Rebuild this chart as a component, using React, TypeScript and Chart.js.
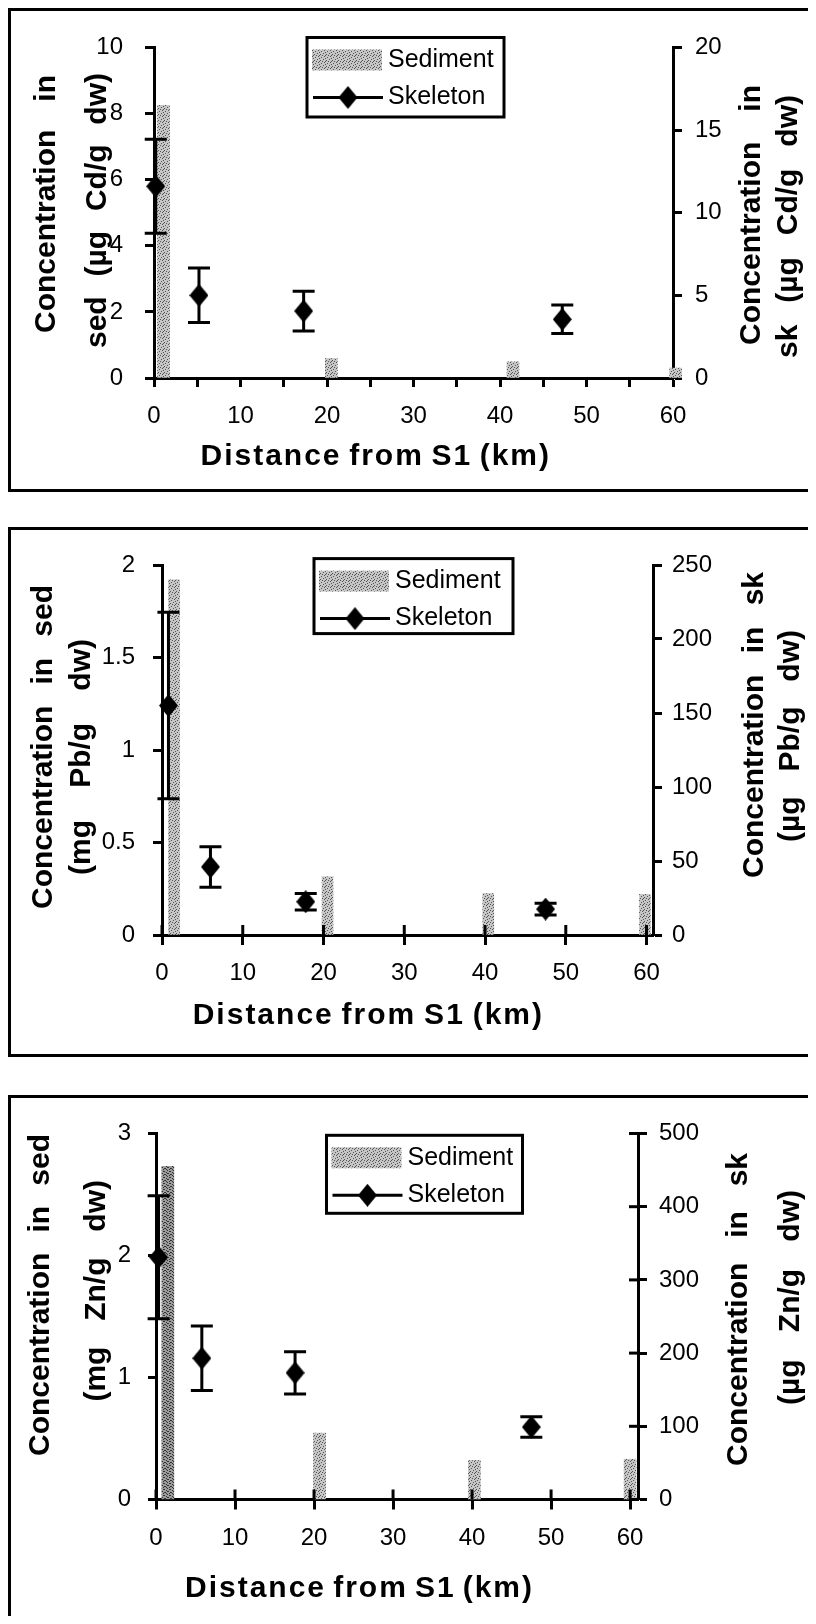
import React, { useEffect, useRef } from 'react';
import { Chart, registerables } from 'chart.js';

Chart.register(...registerables);

// ---------------- Data ----------------
// Cd panel
const cdDistanceTicks = ['0', '', '10', '', '20', '', '30', '', '40', '', '50', '', '60'];
const cdSedDistance = [1.1, 20.5, 41.5, 60.3];
const cdSedValue = [8.25, 0.59, 0.49, 0.3];
const cdSkDistance = [0.2, 5.2, 17.3, 47.2];
const cdSkValue = [11.6, 5.0, 4.05, 3.55];
const cdSkError = [2.85, 1.65, 1.2, 0.86];
const cdSedTicks = ['0', '2', '4', '6', '8', '10'];
const cdSkTicks = ['0', '5', '10', '15', '20'];

// Pb panel
const pbDistanceTicks = ['0', '10', '20', '30', '40', '50', '60'];
const pbSedDistance = [1.5, 20.5, 40.4, 59.8];
const pbSedValue = [1.92, 0.315, 0.224, 0.22];
const pbSkDistance = [0.8, 6.0, 17.8, 47.5];
const pbSkValue = [155, 46, 22.5, 17.5];
const pbSkError = [63, 13.7, 5.6, 4];
const pbSedTicks = ['0', '0.5', '1', '1.5', '2'];
const pbSkTicks = ['0', '50', '100', '150', '200', '250'];

// Zn panel
const znDistanceTicks = ['0', '10', '20', '30', '40', '50', '60'];
const znSedDistance = [1.5, 20.7, 40.3, 60.0];
const znSedValue = [2.73, 0.545, 0.32, 0.33];
const znSkDistance = [0.33, 5.8, 17.6, 47.5];
const znSkValue = [331, 193, 173, 99];
const znSkError = [84, 44, 29, 14];
const znSedTicks = ['0', '1', '2', '3'];
const znSkTicks = ['0', '100', '200', '300', '400', '500'];

const sedLabel = 'Sediment';
const skLabel = 'Skeleton';
const xTitle = 'Distance from S1 (km)';

// ---------------- Layout / style ----------------
const FONT = '"Liberation Sans", Arial, Helvetica, sans-serif';
const CANVAS_W = 799;

type TitleLine = { text: string; base: number; from: number; to: number };

type PanelCfg = {
  top: number;
  height: number;
  area: { left: number; right: number; top: number; bottom: number };
  xMax: number;
  xStep: number;
  xTicks: string[];
  xTickOut: number;
  xTickIn: number;
  xPad: number;
  yTicks: string[];
  yTickLen: number;
  yPad: number;
  y1Ticks: string[];
  y1TickOut: number;
  y1TickIn: number;
  y1Pad: number;
  sedX: number[];
  sedY: number[];
  darkFirst: boolean;
  barWidth: number;
  skX: number[];
  skY: number[];
  skE: number[];
  leftTitle: TitleLine[];
  rightTitle: TitleLine[];
  xTitleLine: TitleLine;
  legend: { x: number; y: number; w: number; h: number };
};

const panels: PanelCfg[] = [
  {
    top: 0,
    height: 484,
    area: { left: 143, right: 662, top: 29.5, bottom: 367 },
    xMax: 60,
    xStep: 5,
    xTicks: cdDistanceTicks,
    xTickOut: 9,
    xTickIn: 0,
    xPad: 15,
    yTicks: cdSedTicks,
    yTickLen: 9,
    yPad: 22,
    y1Ticks: cdSkTicks,
    y1TickOut: 9,
    y1TickIn: 0,
    y1Pad: 13,
    sedX: cdSedDistance,
    sedY: cdSedValue,
    darkFirst: false,
    barWidth: 12,
    skX: cdSkDistance,
    skY: cdSkValue,
    skE: cdSkError,
    leftTitle: [
      { text: 'Concentration in', base: 44, from: 322, to: 64 },
      { text: 'sed (µg Cd/g dw)', base: 95, from: 337, to: 62 },
    ],
    rightTitle: [
      { text: 'Concentration in', base: 749, from: 334, to: 74 },
      { text: 'sk (µg Cd/g dw)', base: 786, from: 347, to: 84 },
    ],
    xTitleLine: { text: xTitle, base: 454, from: 189.5, to: 540 },
    legend: { x: 296, y: 26.5, w: 197, h: 79.5 },
  },
  {
    top: 519,
    height: 530,
    area: { left: 151, right: 642, top: 35, bottom: 405 },
    xMax: 60.8,
    xStep: 10,
    xTicks: pbDistanceTicks,
    xTickOut: 10,
    xTickIn: 10,
    xPad: 14,
    yTicks: pbSedTicks,
    yTickLen: 9,
    yPad: 18,
    y1Ticks: pbSkTicks,
    y1TickOut: 9,
    y1TickIn: 0,
    y1Pad: 10,
    sedX: pbSedDistance,
    sedY: pbSedValue,
    darkFirst: false,
    barWidth: 11,
    skX: pbSkDistance,
    skY: pbSkValue,
    skE: pbSkError,
    leftTitle: [
      { text: 'Concentration in sed', base: 41, from: 379, to: 55 },
      { text: '(mg Pb/g dw)', base: 79, from: 345, to: 109 },
    ],
    rightTitle: [
      { text: 'Concentration in sk', base: 752, from: 348, to: 42 },
      { text: '(µg Pb/g dw)', base: 788, from: 312, to: 100 },
    ],
    xTitleLine: { text: xTitle, base: 494, from: 181.7, to: 533 },
    legend: { x: 303, y: 28.6, w: 199, h: 75 },
  },
  {
    top: 1087,
    height: 527,
    area: { left: 145, right: 627, top: 35.5, bottom: 401.5 },
    xMax: 61,
    xStep: 10,
    xTicks: znDistanceTicks,
    xTickOut: 10,
    xTickIn: 10,
    xPad: 14,
    yTicks: znSedTicks,
    yTickLen: 8,
    yPad: 17,
    y1Ticks: znSkTicks,
    y1TickOut: 9,
    y1TickIn: 9,
    y1Pad: 12,
    sedX: znSedDistance,
    sedY: znSedValue,
    darkFirst: true,
    barWidth: 12,
    skX: znSkDistance,
    skY: znSkValue,
    skE: znSkError,
    leftTitle: [
      { text: 'Concentration in sed', base: 38, from: 358, to: 36 },
      { text: '(mg Zn/g dw)', base: 94, from: 303.6, to: 82 },
    ],
    rightTitle: [
      { text: 'Concentration in sk', base: 736, from: 368, to: 55 },
      { text: '(µg Zn/g dw)', base: 788, from: 307, to: 92 },
    ],
    xTitleLine: { text: xTitle, base: 499, from: 174, to: 523 },
    legend: { x: 315.5, y: 37.3, w: 196, h: 78 },
  },
];

// ---------------- Helpers ----------------
function makeDiamond(w: number, h: number) {
  const c = document.createElement('canvas');
  c.width = w;
  c.height = h;
  const g = c.getContext('2d')!;
  g.fillStyle = '#000';
  g.beginPath();
  g.moveTo(w / 2, 0);
  g.lineTo(w, h / 2);
  g.lineTo(w / 2, h);
  g.lineTo(0, h / 2);
  g.closePath();
  g.fill();
  return c;
}

function makeStipple(ctx: CanvasRenderingContext2D, base: string, dot: string, dots: number[][]) {
  const c = document.createElement('canvas');
  c.width = 6;
  c.height = 6;
  const g = c.getContext('2d')!;
  g.fillStyle = base;
  g.fillRect(0, 0, 6, 6);
  g.fillStyle = dot;
  dots.forEach(([x, y]) => g.fillRect(x, y, 1, 1));
  return ctx.createPattern(c, 'repeat')!;
}

const lightDots = [[0, 0], [3, 1], [5, 2], [1, 3], [4, 4], [2, 5], [2, 2]];
const darkDots = [[0, 0], [3, 1], [5, 2], [1, 3], [4, 4], [2, 5], [2, 1], [5, 5], [0, 3], [3, 4]];

// words spread evenly between two positions along the reading direction
function drawSpread(ctx: CanvasRenderingContext2D, line: TitleLine, vertical: boolean) {
  const words = line.text.split(/\s+/);
  const widths = words.map((w) => ctx.measureText(w).width);
  const total = widths.reduce((a, b) => a + b, 0);
  const L = Math.abs(line.from - line.to);
  const gap = words.length > 1 ? (L - total) / (words.length - 1) : 0;
  ctx.save();
  if (vertical) {
    ctx.translate(line.base, line.from);
    ctx.rotate(-Math.PI / 2);
  } else {
    ctx.translate(line.from, line.base);
  }
  let pos = words.length > 1 ? 0 : (L - total) / 2;
  words.forEach((w, i) => {
    ctx.fillText(w, pos, 0);
    pos += widths[i] + gap;
  });
  ctx.restore();
}

function Panel({ cfg }: { cfg: PanelCfg }) {
  const ref = useRef<HTMLCanvasElement>(null);

  useEffect(() => {
    const canvas = ref.current!;
    const ctx = canvas.getContext('2d')!;
    const W = canvas.width;
    const H = canvas.height;
    const a = cfg.area;
    const light = makeStipple(ctx, '#c6c6c6', '#555555', lightDots);
    const dark = makeStipple(ctx, '#9c9c9c', '#333333', darkDots);
    const diamond = makeDiamond(19, 23);
    const barColors = cfg.sedX.map((_, i) => (cfg.darkFirst && i === 0 ? dark : light));

    const tickFont = { family: FONT, size: 24 };

    const axisDecor = {
      id: 'axisDecor',
      afterDatasetsDraw(chart: any) {
        const c = chart.ctx;
        const xs = chart.scales.x;
        const ys = chart.scales.y1;
        c.save();
        c.strokeStyle = '#000';
        c.lineWidth = 3;
        cfg.skX.forEach((xv, i) => {
          const px = xs.getPixelForValue(xv);
          const top = ys.getPixelForValue(cfg.skY[i] + cfg.skE[i]);
          const bot = ys.getPixelForValue(cfg.skY[i] - cfg.skE[i]);
          c.beginPath();
          c.moveTo(px, top);
          c.lineTo(px, bot);
          c.moveTo(px - 11, top);
          c.lineTo(px + 11, top);
          c.moveTo(px - 11, bot);
          c.lineTo(px + 11, bot);
          c.stroke();
        });
        c.restore();
      },
      afterDraw(chart: any) {
        const c = chart.ctx;
        const ca = chart.chartArea;
        c.save();
        c.strokeStyle = '#000';
        c.lineWidth = 3;
        // inner tick parts
        if (cfg.xTickIn > 0) {
          const xs = chart.scales.x;
          xs.ticks.forEach((t: any) => {
            const px = xs.getPixelForValue(t.value);
            c.beginPath();
            c.moveTo(px, ca.bottom);
            c.lineTo(px, ca.bottom - cfg.xTickIn);
            c.stroke();
          });
        }
        if (cfg.y1TickIn > 0) {
          const ys = chart.scales.y1;
          ys.ticks.forEach((t: any) => {
            const py = ys.getPixelForValue(t.value);
            c.beginPath();
            c.moveTo(ca.right, py);
            c.lineTo(ca.right - cfg.y1TickIn, py);
            c.stroke();
          });
        }
        // axis titles
        c.fillStyle = '#000';
        c.textBaseline = 'alphabetic';
        c.textAlign = 'left';
        c.font = `bold 30px ${FONT}`;
        cfg.leftTitle.forEach((l) => drawSpread(c, l, true));
        cfg.rightTitle.forEach((l) => drawSpread(c, l, true));
        c.letterSpacing = '2px';
        drawSpread(c, cfg.xTitleLine, false);
        c.letterSpacing = '0px';
        // legend
        const L = cfg.legend;
        c.fillStyle = '#fff';
        c.fillRect(L.x, L.y, L.w, L.h);
        c.lineWidth = 3;
        c.strokeRect(L.x, L.y, L.w, L.h);
        c.fillStyle = light;
        c.fillRect(L.x + 5, L.y + 12, 70, 21);
        c.beginPath();
        c.moveTo(L.x + 6, L.y + 60);
        c.lineTo(L.x + 76, L.y + 60);
        c.stroke();
        c.drawImage(diamond, L.x + 41 - diamond.width / 2, L.y + 60 - diamond.height / 2);
        c.fillStyle = '#000';
        c.font = `25px ${FONT}`;
        c.textBaseline = 'middle';
        c.fillText(chart.data.datasets[0].label, L.x + 81, L.y + 23);
        c.fillText(chart.data.datasets[1].label, L.x + 81, L.y + 60);
        c.restore();
      },
    };

    const chart = new Chart(canvas, {
      type: 'bar',
      data: {
        datasets: [
          {
            type: 'bar',
            label: sedLabel,
            data: cfg.sedX.map((x, i) => ({ x, y: cfg.sedY[i] })),
            backgroundColor: barColors,
            borderWidth: 0,
            barThickness: cfg.barWidth,
            grouped: false,
            xAxisID: 'x',
            yAxisID: 'y',
            clip: false,
            order: 2,
          } as any,
          {
            type: 'line',
            label: skLabel,
            data: cfg.skX.map((x, i) => ({ x, y: cfg.skY[i] })),
            showLine: false,
            pointStyle: diamond,
            pointRadius: 10,
            xAxisID: 'x',
            yAxisID: 'y1',
            clip: false,
            order: 1,
          } as any,
        ],
      },
      options: {
        responsive: false,
        animation: false,
        devicePixelRatio: 1,
        events: [],
        layout: { padding: { top: a.top, left: 0, right: 0, bottom: 0 } },
        plugins: { legend: { display: false }, tooltip: { enabled: false } },
        scales: {
          x: {
            type: 'linear',
            position: 'bottom',
            offset: false,
            min: 0,
            max: cfg.xMax,
            z: 1,
            ticks: {
              stepSize: cfg.xStep,
              includeBounds: false,
              autoSkip: false,
              maxRotation: 0,
              minRotation: 0,
              padding: cfg.xPad,
              color: '#000',
              font: tickFont,
              callback: (_v: any, i: number) => cfg.xTicks[i] ?? '',
            },
            grid: {
              offset: false,
              drawOnChartArea: false,
              tickLength: cfg.xTickOut,
              tickWidth: 3,
              tickColor: '#000',
            },
            border: { display: true, width: 3, color: '#000' },
            afterFit: (s: any) => {
              s.height = H - a.bottom;
            },
          },
          y: {
            type: 'linear',
            position: 'left',
            min: 0,
            max: Number(cfg.yTicks[cfg.yTicks.length - 1]),
            ticks: {
              stepSize: Number(cfg.yTicks[1]) - Number(cfg.yTicks[0]),
              includeBounds: false,
              padding: cfg.yPad,
              color: '#000',
              font: tickFont,
              callback: (_v: any, i: number) => cfg.yTicks[i] ?? '',
            },
            grid: { drawOnChartArea: false, tickLength: cfg.yTickLen, tickWidth: 3, tickColor: '#000' },
            border: { display: true, width: 3, color: '#000' },
            afterFit: (s: any) => {
              s.width = a.left;
            },
          },
          y1: {
            type: 'linear',
            position: 'right',
            min: 0,
            max: Number(cfg.y1Ticks[cfg.y1Ticks.length - 1]),
            ticks: {
              stepSize: Number(cfg.y1Ticks[1]) - Number(cfg.y1Ticks[0]),
              includeBounds: false,
              padding: cfg.y1Pad,
              color: '#000',
              font: tickFont,
              callback: (_v: any, i: number) => cfg.y1Ticks[i] ?? '',
            },
            grid: { drawOnChartArea: false, tickLength: cfg.y1TickOut, tickWidth: 3, tickColor: '#000' },
            border: { display: true, width: 3, color: '#000' },
            afterFit: (s: any) => {
              s.width = W - a.right;
            },
          },
        },
      } as any,
      plugins: [axisDecor],
    });

    return () => chart.destroy();
  }, [cfg]);

  const ch = cfg.height - 6;
  return (
    <div
      style={{
        position: 'absolute',
        left: 0,
        top: cfg.top,
        width: 805,
        height: cfg.height,
        border: '3px solid #000',
        boxSizing: 'border-box',
        background: '#fff',
      }}
    >
      <canvas ref={ref} width={CANVAS_W} height={ch} style={{ display: 'block', width: CANVAS_W, height: ch }} />
    </div>
  );
}

export default function App() {
  return (
    <div style={{ position: 'relative', width: 808, height: 1616, marginBottom: -8, background: '#fff' }}>
      {panels.map((p, i) => (
        <Panel key={i} cfg={p} />
      ))}
    </div>
  );
}
